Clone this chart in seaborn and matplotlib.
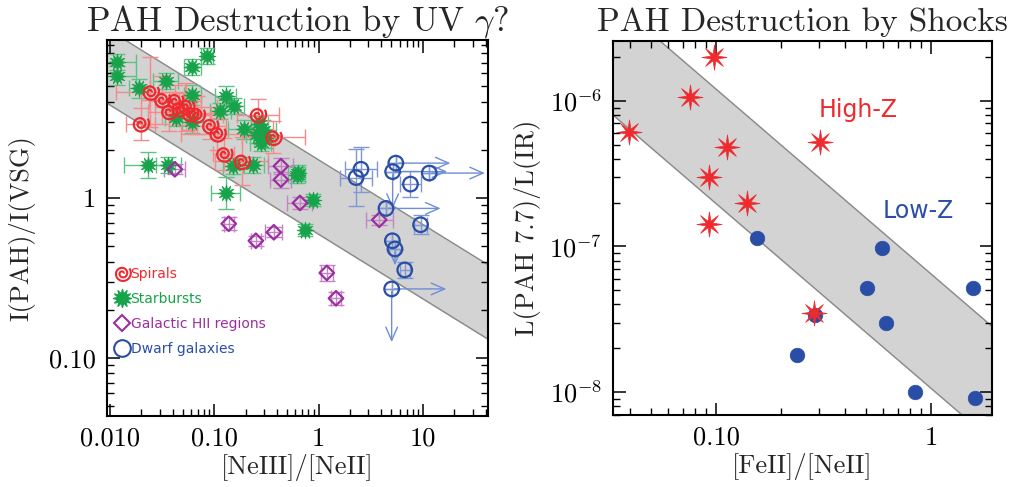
import numpy as np
import matplotlib
matplotlib.use("Agg")
import matplotlib.pyplot as plt
from matplotlib.path import Path
from matplotlib.lines import Line2D
from matplotlib.ticker import FixedLocator, FixedFormatter, LogLocator, NullFormatter
import seaborn as sns

# ---------------- data: left panel ----------------
sp_x = [0.0197, 0.0245, 0.0316, 0.042, 0.0368, 0.0462, 0.0536, 0.0585, 0.0678, 0.091, 0.107, 0.124, 0.183, 0.261, 0.368]
sp_y = [2.90, 4.58, 4.10, 4.04, 3.46, 3.60, 3.72, 3.35, 3.30, 2.82, 2.51, 1.88, 1.69, 3.30, 2.39]
sp_xerr = [0.14, 0.33, 0.2, 0.25, 0.2, 0.15, 0.3, 0.2, 0.25, 0.15, 0.35, 0.1, 0.25, 0.2, 0.3]
sp_yerr = [0.1, 0.22, 0.15, 0.1, 0.12, 0.1, 0.15, 0.1, 0.12, 0.08, 0.1, 0.1, 0.15, 0.1, 0.1]

sb_x = [0.0118, 0.0118, 0.0191, 0.0344, 0.062, 0.0857, 0.062, 0.043, 0.062, 0.129, 0.154, 0.115, 0.193,
        0.255, 0.295, 0.306, 0.0233, 0.0362, 0.152, 0.237, 0.617, 0.129, 0.634, 0.88, 0.74, 0.28, 0.27]
sb_y = [7.1, 5.79, 4.85, 5.41, 6.56, 7.72, 4.40, 3.15, 3.0, 4.34, 3.76, 3.51, 2.69,
        2.48, 2.66, 2.36, 1.61, 1.61, 1.58, 1.61, 1.39, 1.08, 1.43, 0.97, 0.63, 2.2, 2.9]
sb_xerr = [0.18, 0.18, 0.1, 0.12, 0.08, 0.06, 0.08, 0.1, 0.1, 0.1, 0.1, 0.1, 0.15,
           0.1, 0.12, 0.1, 0.23, 0.12, 0.1, 0.1, 0.08, 0.14, 0.05, 0.04, 0.04, 0.1, 0.08]
sb_yerr = [0.05, 0.06, 0.06, 0.05, 0.05, 0.05, 0.06, 0.05, 0.07, 0.06, 0.05, 0.05, 0.06,
           0.05, 0.06, 0.06, 0.08, 0.05, 0.05, 0.05, 0.05, 0.1, 0.05, 0.04, 0.04, 0.05, 0.05]

hii_x = [0.042, 0.436, 0.436, 0.138, 0.251, 0.373, 0.664, 3.82, 1.20, 1.47]
hii_y = [1.51, 1.58, 1.30, 0.69, 0.54, 0.61, 0.93, 0.73, 0.34, 0.236]
hii_xerr = [0.1, 0.12, 0.1, 0.05, 0.05, 0.08, 0.12, 0.13, 0.06, 0.05]
hii_yerr = [0.03, 0.05, 0.05, 0.04, 0.03, 0.03, 0.04, 0.03, 0.05, 0.04]

dw_x = [2.55, 2.29, 5.5, 5.13, 11.5, 7.6, 4.43, 9.5, 5.1, 5.4, 6.7, 5.02]
dw_y = [1.51, 1.34, 1.65, 1.46, 1.43, 1.22, 0.86, 0.68, 0.54, 0.48, 0.355, 0.27]
dw_xerr = [0.15, 0.15, 0, 0, 0, 0.1, 0, 0.06, 0, 0, 0.05, 0]
dw_yerr = [0.14, 0.18, 0, 0, 0, 0.08, 0, 0.06, 0, 0, 0.05, 0]
dw_xarrow = [0, 0, 0.55, 0.55, 0.56, 0, 0.55, 0, 0, 0, 0, 0.55]   # lower limits (dex)
dw_yarrow = [0, 0, 0, 0.25, 0, 0, 0, 0, 0, 0.12, 0, 0.35]         # upper limits (dex)

band1_x = [0.009, 50.0]
band1_hi = [11.6, 0.356]
band1_lo = [3.98, 0.1223]

# ---------------- data: right panel ----------------
hz_x = [0.098, 0.0757, 0.0394, 0.112, 0.0928, 0.139, 0.0928, 0.305, 0.286]
hz_y = [2.0e-6, 1.065e-6, 6.1e-7, 4.8e-7, 3.0e-7, 2.0e-7, 1.42e-7, 5.2e-7, 3.5e-8]
lz_x = [0.155, 0.591, 0.504, 1.57, 0.618, 0.29, 0.238, 0.843, 1.60]
lz_y = [1.15e-7, 9.7e-8, 5.2e-8, 5.2e-8, 3.0e-8, 3.4e-8, 1.79e-8, 1.0e-8, 9.1e-9]

band2_x = [0.03, 2.0]
band2_hi = [5.56e-6, 2.68e-8]
band2_lo = [9.1e-7, 4.4e-9]

# ---------------- style ----------------
sns.set_theme(style="ticks")
plt.rcParams["font.family"] = ["cmr10", "DejaVu Serif"]
plt.rcParams["mathtext.fontset"] = "cm"
plt.rcParams["axes.formatter.use_mathtext"] = True
plt.rcParams["axes.unicode_minus"] = False

RED = "#ee2a2e"
GREEN = "#17a34a"
PURPLE = "#9a2f9e"
BLUE = "#2a4ea6"
BAND = "#d3d3d3"

# spiral marker path
th = np.linspace(0.0, 4.2 * np.pi, 160)
rr = 0.15 + th / th.max()
spiral = Path(np.column_stack([rr * np.cos(th), rr * np.sin(th)]))
sun = Path.unit_regular_star(12, 0.5)
spike = Path.unit_regular_star(8, 0.28)

fig = plt.figure(figsize=(10.14, 4.87), dpi=100)
ax1 = fig.add_axes([0.1055, 0.1458, 0.3757, 0.7721])
ax2 = fig.add_axes([0.6045, 0.1478, 0.3738, 0.7680])


def errs(vals, dex):
    v = np.asarray(vals, float)
    d = np.asarray(dex, float)
    return np.vstack([v - v / 10 ** d, v * 10 ** d - v])


# ---- left panel ----
ax1.set_xscale("log")
ax1.set_yscale("log")
ax1.fill_between(band1_x, band1_lo, band1_hi, color=BAND, zorder=0)
ax1.plot(band1_x, band1_hi, color="#8a8a8a", lw=1, zorder=0)
ax1.plot(band1_x, band1_lo, color="#8a8a8a", lw=1, zorder=0)

for xs, ys, xe, ye, c in [(sb_x, sb_y, sb_xerr, sb_yerr, "#5cc383"),
                          (sp_x, sp_y, sp_xerr, sp_yerr, "#f48a8a"),
                          (hii_x, hii_y, hii_xerr, hii_yerr, "#c584c8"),
                          (dw_x, dw_y, dw_xerr, dw_yerr, "#7f98d4")]:
    ax1.errorbar(xs, ys, xerr=errs(xs, xe), yerr=errs(ys, ye), fmt="none",
                 ecolor=c, elinewidth=1, capsize=6, capthick=1, zorder=1)

for x, y, dx, dy in zip(dw_x, dw_y, dw_xarrow, dw_yarrow):
    if dx > 0:
        ax1.annotate("", xy=(x * 10 ** dx, y), xytext=(x, y),
                     arrowprops=dict(arrowstyle="->,head_length=0.8,head_width=0.35",
                                     color="#6f8ed6", lw=1), zorder=1)
    if dy > 0:
        ax1.annotate("", xy=(x, y / 10 ** dy), xytext=(x, y),
                     arrowprops=dict(arrowstyle="->,head_length=0.8,head_width=0.35",
                                     color="#6f8ed6", lw=1), zorder=1)

sns.scatterplot(x=sb_x, y=sb_y, marker=sun, s=150, color=GREEN, edgecolor=GREEN,
                linewidth=0.5, ax=ax1, zorder=3)
sns.scatterplot(x=sp_x, y=sp_y, marker=spiral, s=150, color=RED, facecolor="none",
                edgecolor=RED, linewidth=1.6, ax=ax1, zorder=4)
sns.scatterplot(x=hii_x, y=hii_y, marker="D", s=55, color=PURPLE, facecolor="none",
                edgecolor=PURPLE, linewidth=1.6, ax=ax1, zorder=3)
sns.scatterplot(x=dw_x, y=dw_y, marker="o", s=110, color=BLUE, facecolor="none",
                edgecolor=BLUE, linewidth=1.6, ax=ax1, zorder=3)

ax1.set_xlim(0.0094, 42)
ax1.set_ylim(0.0434, 9.7)
ax1.xaxis.set_major_locator(FixedLocator([0.01, 0.1, 1, 10]))
ax1.xaxis.set_major_formatter(FixedFormatter(["0.010", "0.10", "1", "10"]))
ax1.yaxis.set_major_locator(FixedLocator([0.1, 1]))
ax1.yaxis.set_major_formatter(FixedFormatter(["0.10", "1"]))
ax1.set_xlabel("[NeIII]/[NeII]", fontsize=19, labelpad=2)
ax1.set_ylabel("I(PAH)/I(VSG)", fontsize=19, labelpad=10)
ax1.set_title(r"PAH Destruction by UV $\gamma$?", fontsize=25, pad=7)

handles = [Line2D([], [], ls="none", marker=spiral, ms=12, mfc="none", mec=RED, mew=1.5),
           Line2D([], [], ls="none", marker=sun, ms=13, mfc=GREEN, mec=GREEN),
           Line2D([], [], ls="none", marker="D", ms=8, mfc="none", mec=PURPLE, mew=1.5),
           Line2D([], [], ls="none", marker="o", ms=12, mfc="none", mec=BLUE, mew=1.5)]
labels = ["Spirals", "Starbursts", "Galactic HII regions", "Dwarf galaxies"]
leg = ax1.legend(handles, labels, loc="upper left", bbox_to_anchor=(0.0, 0.418),
                 frameon=False, handlelength=0.9, handletextpad=0.2, labelspacing=0.78,
                 borderaxespad=0.2, prop={"family": "DejaVu Sans", "size": 10},
                 labelcolor=[RED, GREEN, PURPLE, BLUE])

# ---- right panel ----
ax2.set_xscale("log")
ax2.set_yscale("log")
ax2.fill_between(band2_x, band2_lo, band2_hi, color=BAND, zorder=0)
ax2.plot(band2_x, band2_hi, color="#8a8a8a", lw=1, zorder=0)
ax2.plot(band2_x, band2_lo, color="#8a8a8a", lw=1, zorder=0)
sns.scatterplot(x=lz_x, y=lz_y, marker="o", s=110, color=BLUE, edgecolor=BLUE,
                linewidth=0.5, ax=ax2, zorder=3)
sns.scatterplot(x=hz_x, y=hz_y, marker=spike, s=330, color=RED, edgecolor=RED,
                linewidth=0.5, ax=ax2, zorder=4)
ax2.text(0.457, 8.7e-7, "High-Z", color=RED, fontsize=17, family="DejaVu Sans",
         ha="center", va="center")
ax2.text(0.87, 1.74e-7, "Low-Z", color=BLUE, fontsize=17, family="DejaVu Sans",
         ha="center", va="center")
ax2.set_xlim(0.0332, 1.92)
ax2.set_ylim(10 ** -8.158, 10 ** -5.589)
ax2.xaxis.set_major_locator(FixedLocator([0.1, 1]))
ax2.xaxis.set_major_formatter(FixedFormatter(["0.10", "1"]))
ax2.yaxis.set_major_locator(FixedLocator([1e-8, 1e-7, 1e-6]))
ax2.yaxis.set_major_formatter(FixedFormatter([r"$10^{-8}$", r"$10^{-7}$", r"$10^{-6}$"]))
ax2.set_xlabel("[FeII]/[NeII]", fontsize=19, labelpad=2)
ax2.set_ylabel("L(PAH 7.7)/L(IR)", fontsize=19, labelpad=6)
ax2.set_title("PAH Destruction by Shocks", fontsize=24, pad=7)

for ax in (ax1, ax2):
    ax.xaxis.set_minor_locator(LogLocator(base=10, subs=np.arange(2, 10)))
    ax.yaxis.set_minor_locator(LogLocator(base=10, subs=np.arange(2, 10)))
    ax.xaxis.set_minor_formatter(NullFormatter())
    ax.yaxis.set_minor_formatter(NullFormatter())
    ax.tick_params(which="both", direction="in", top=True, right=True, colors="black")
    ax.tick_params(which="major", length=9, width=1.1, labelsize=19, pad=8)
    ax.tick_params(which="minor", length=5, width=1.0)
    for sp in ax.spines.values():
        sp.set_linewidth(1.5)
        sp.set_color("black")

fig.savefig("out.png", dpi=100)
